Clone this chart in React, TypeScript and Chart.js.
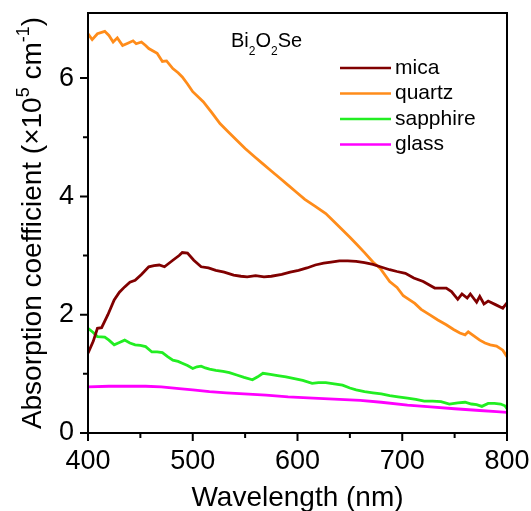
import { useEffect, useRef } from "react";
import { Chart, registerables } from "chart.js";

Chart.register(...registerables);

// Absorption spectra of Bi2O2Se films on different substrates (x10^5 cm^-1)
const MICA_NM = [400, 405, 409, 413, 419, 425, 430, 435, 440, 445, 451, 458, 463, 468, 473, 481, 487, 490, 495, 501, 508, 515, 522, 530, 539, 546, 552, 560, 568, 575, 585, 593, 601, 609, 617, 625, 632, 640, 648, 656, 664, 672, 679, 688, 695, 703, 711, 720, 731, 742, 747, 753, 757, 762, 765, 771, 774, 778, 782, 789, 796, 800];
const MICA_ABS = [1.35, 1.55, 1.77, 1.78, 2.0, 2.25, 2.38, 2.47, 2.55, 2.58, 2.68, 2.81, 2.83, 2.84, 2.81, 2.92, 3.0, 3.05, 3.04, 2.92, 2.81, 2.79, 2.75, 2.72, 2.67, 2.65, 2.64, 2.66, 2.64, 2.65, 2.68, 2.72, 2.75, 2.79, 2.84, 2.87, 2.89, 2.91, 2.91, 2.9, 2.88, 2.85, 2.81, 2.76, 2.73, 2.7, 2.62, 2.56, 2.45, 2.45, 2.39, 2.26, 2.35, 2.28, 2.35, 2.21, 2.31, 2.18, 2.23, 2.17, 2.11, 2.2];

const QUARTZ_NM = [400, 404, 409, 416, 420, 424, 428, 433, 438, 443, 446, 451, 455, 458, 466, 471, 475, 481, 486, 490, 495, 500, 510, 518, 526, 534, 542, 550, 559, 567, 575, 583, 591, 599, 607, 617, 627, 635, 643, 650, 656, 664, 672, 679, 688, 695, 701, 707, 712, 718, 726, 734, 742, 749, 755, 760, 763, 770, 774, 779, 784, 790, 796, 800];
const QUARTZ_ABS = [6.75, 6.65, 6.75, 6.79, 6.72, 6.61, 6.68, 6.55, 6.59, 6.63, 6.58, 6.61, 6.55, 6.5, 6.42, 6.28, 6.29, 6.16, 6.09, 6.02, 5.9, 5.77, 5.6, 5.42, 5.23, 5.09, 4.95, 4.81, 4.67, 4.55, 4.43, 4.31, 4.19, 4.07, 3.95, 3.83, 3.71, 3.57, 3.43, 3.31, 3.2, 3.05, 2.89, 2.78, 2.56, 2.46, 2.32, 2.25, 2.19, 2.09, 2.0, 1.91, 1.83, 1.75, 1.69, 1.66, 1.71, 1.62, 1.57, 1.52, 1.49, 1.47, 1.4, 1.29];

const SAPPHIRE_NM = [400, 405, 409, 416, 420, 425, 430, 435, 440, 445, 450, 455, 461, 466, 471, 476, 481, 486, 490, 495, 500, 504, 508, 512, 516, 522, 529, 535, 542, 549, 557, 562, 567, 574, 581, 589, 597, 605, 614, 620, 627, 635, 643, 650, 656, 664, 672, 680, 688, 696, 705, 713, 721, 729, 737, 745, 753, 760, 766, 771, 776, 782, 788, 794, 798, 800];
const SAPPHIRE_ABS = [1.77, 1.7, 1.63, 1.62, 1.57, 1.49, 1.53, 1.57, 1.52, 1.49, 1.48, 1.46, 1.37, 1.37, 1.36, 1.29, 1.23, 1.21, 1.18, 1.14, 1.09, 1.12, 1.13, 1.1, 1.08, 1.06, 1.04, 1.02, 0.98, 0.94, 0.9, 0.95, 1.01, 0.99, 0.97, 0.95, 0.92, 0.89, 0.84, 0.85, 0.85, 0.83, 0.81, 0.76, 0.73, 0.7, 0.68, 0.66, 0.63, 0.61, 0.59, 0.57, 0.54, 0.54, 0.53, 0.49, 0.51, 0.52, 0.49, 0.48, 0.45, 0.5, 0.5, 0.49, 0.46, 0.41];

const GLASS_NM = [400, 420, 440, 455, 470, 487, 500, 516, 532, 549, 570, 591, 615, 640, 660, 680, 705, 727, 750, 774, 790, 800];
const GLASS_ABS = [0.78, 0.79, 0.79, 0.79, 0.78, 0.75, 0.73, 0.7, 0.68, 0.66, 0.64, 0.61, 0.59, 0.57, 0.55, 0.52, 0.47, 0.44, 0.41, 0.38, 0.36, 0.35];

const SERIES_LABELS = ["mica", "quartz", "sapphire", "glass"];
const SERIES_COLORS = ["#800000", "#FF8C1A", "#22EE22", "#FF00FF"];

const X_TICKS = [400, 500, 600, 700, 800];
const X_MINOR = [450, 550, 650, 750];
const Y_TICKS = [0, 2, 4, 6];
const Y_MINOR = [1, 3, 5];

const FONT = "'Liberation Sans', Arial, Helvetica, sans-serif";

function pts(xs: number[], ys: number[]) {
  return xs.map((x, i) => ({ x, y: ys[i] }));
}

type Seg = { t: string; sup?: boolean; sub?: boolean };

// Draws a run of text with superscript / subscript pieces starting at (startX, 0)
function drawRich(ctx: CanvasRenderingContext2D, segs: Seg[], size: number, smallSize: number, startX: number) {
  let x = startX;
  for (const s of segs) {
    const small = s.sup || s.sub;
    ctx.font = `${small ? smallSize : size}px ${FONT}`;
    const dy = s.sup ? -size * 0.42 : s.sub ? size * 0.4 : 0;
    ctx.fillText(s.t, x, dy);
    x += ctx.measureText(s.t).width;
  }
}

function richWidth(ctx: CanvasRenderingContext2D, segs: Seg[], size: number, smallSize: number) {
  let w = 0;
  for (const s of segs) {
    ctx.font = `${s.sup || s.sub ? smallSize : size}px ${FONT}`;
    w += ctx.measureText(s.t).width;
  }
  return w;
}

// Scales should not push the plot area inward for overhanging labels
function noPad(s: any) {
  s.paddingTop = 0;
  s.paddingBottom = 0;
  s.paddingLeft = 0;
  s.paddingRight = 0;
}

const framePlugin = {
  id: "frame",
  afterDraw(chart: any) {
    const { ctx, chartArea } = chart;
    const { left, right, top, bottom } = chartArea;
    const xs = chart.scales.x;
    const ys = chart.scales.y;
    ctx.save();

    // plot box
    ctx.strokeStyle = "#000";
    ctx.lineWidth = 2;
    ctx.strokeRect(left, top, right - left, bottom - top);

    // outward tick marks
    ctx.beginPath();
    for (const v of X_TICKS) {
      const p = xs.getPixelForValue(v);
      ctx.moveTo(p, bottom);
      ctx.lineTo(p, bottom + 8);
    }
    for (const v of X_MINOR) {
      const p = xs.getPixelForValue(v);
      ctx.moveTo(p, bottom);
      ctx.lineTo(p, bottom + 5);
    }
    for (const v of Y_TICKS) {
      const p = ys.getPixelForValue(v);
      ctx.moveTo(left, p);
      ctx.lineTo(left - 8, p);
    }
    for (const v of Y_MINOR) {
      const p = ys.getPixelForValue(v);
      ctx.moveTo(left, p);
      ctx.lineTo(left - 5, p);
    }
    ctx.stroke();

    ctx.fillStyle = "#000";
    ctx.textBaseline = "alphabetic";

    // x axis title
    ctx.font = `28px ${FONT}`;
    ctx.textAlign = "center";
    ctx.fillText("Wavelength (nm)", (left + right) / 2, 506);

    // y axis title with superscripts
    ctx.textAlign = "left";
    const ySegs: Seg[] = [
      { t: "Absorption coefficient (\u00d710" },
      { t: "5", sup: true },
      { t: " cm" },
      { t: "-1", sup: true },
      { t: ")" },
    ];
    const yw = richWidth(ctx, ySegs, 28, 18);
    ctx.save();
    ctx.translate(41, (top + bottom) / 2);
    ctx.rotate(-Math.PI / 2);
    drawRich(ctx, ySegs, 28, 18, -yw / 2);
    ctx.restore();

    // compound label
    ctx.save();
    ctx.translate(231, 47);
    drawRich(ctx, [{ t: "Bi" }, { t: "2", sub: true }, { t: "O" }, { t: "2", sub: true }, { t: "Se" }], 20, 12, 0);
    ctx.restore();

    // legend
    ctx.textBaseline = "middle";
    ctx.font = `21px ${FONT}`;
    chart.data.datasets.forEach((ds: any, i: number) => {
      const y = 68 + i * 25.5;
      ctx.strokeStyle = ds.borderColor;
      ctx.lineWidth = 2.5;
      ctx.beginPath();
      ctx.moveTo(340, y);
      ctx.lineTo(391, y);
      ctx.stroke();
      ctx.fillStyle = "#000";
      ctx.fillText(ds.label, 395, y);
    });

    ctx.restore();
  },
};

export default function App() {
  const ref = useRef<HTMLCanvasElement | null>(null);

  useEffect(() => {
    if (!ref.current) return;
    const series = [
      pts(MICA_NM, MICA_ABS),
      pts(QUARTZ_NM, QUARTZ_ABS),
      pts(SAPPHIRE_NM, SAPPHIRE_ABS),
      pts(GLASS_NM, GLASS_ABS),
    ];
    const chart = new Chart(ref.current, {
      type: "line",
      data: {
        datasets: series.map((d, i) => ({
          label: SERIES_LABELS[i],
          data: d,
          borderColor: SERIES_COLORS[i],
          backgroundColor: SERIES_COLORS[i],
          borderWidth: 2.8,
          pointRadius: 0,
          tension: 0,
          fill: false,
        })),
      },
      options: {
        animation: false,
        responsive: false,
        devicePixelRatio: 1,
        layout: { padding: { left: 0, top: 13, right: 24, bottom: 0 } },
        plugins: { legend: { display: false }, tooltip: { enabled: false } },
        scales: {
          x: {
            type: "linear",
            min: 400,
            max: 800,
            afterBuildTicks: (s: any) => {
              s.ticks = X_TICKS.map((v) => ({ value: v }));
            },
            afterFit: (s: any) => {
              s.height = 78;
              noPad(s);
            },
            grid: { display: false, drawTicks: false },
            border: { display: false },
            ticks: {
              autoSkip: false,
              maxRotation: 0,
              padding: 12,
              color: "#000",
              font: { family: FONT, size: 27 },
            },
          },
          y: {
            type: "linear",
            min: 0,
            max: 7.1,
            afterBuildTicks: (s: any) => {
              s.ticks = Y_TICKS.map((v) => ({ value: v }));
            },
            afterFit: (s: any) => {
              s.width = 88;
              noPad(s);
            },
            grid: { display: false, drawTicks: false },
            border: { display: false },
            ticks: {
              padding: 14,
              color: "#000",
              font: { family: FONT, size: 27 },
            },
          },
        },
      },
      plugins: [framePlugin],
    });
    return () => chart.destroy();
  }, []);

  return (
    <div style={{ position: "absolute", left: 0, top: 0, width: 531, height: 511, background: "#fff" }}>
      <canvas ref={ref} width={531} height={511} style={{ display: "block" }} />
    </div>
  );
}
